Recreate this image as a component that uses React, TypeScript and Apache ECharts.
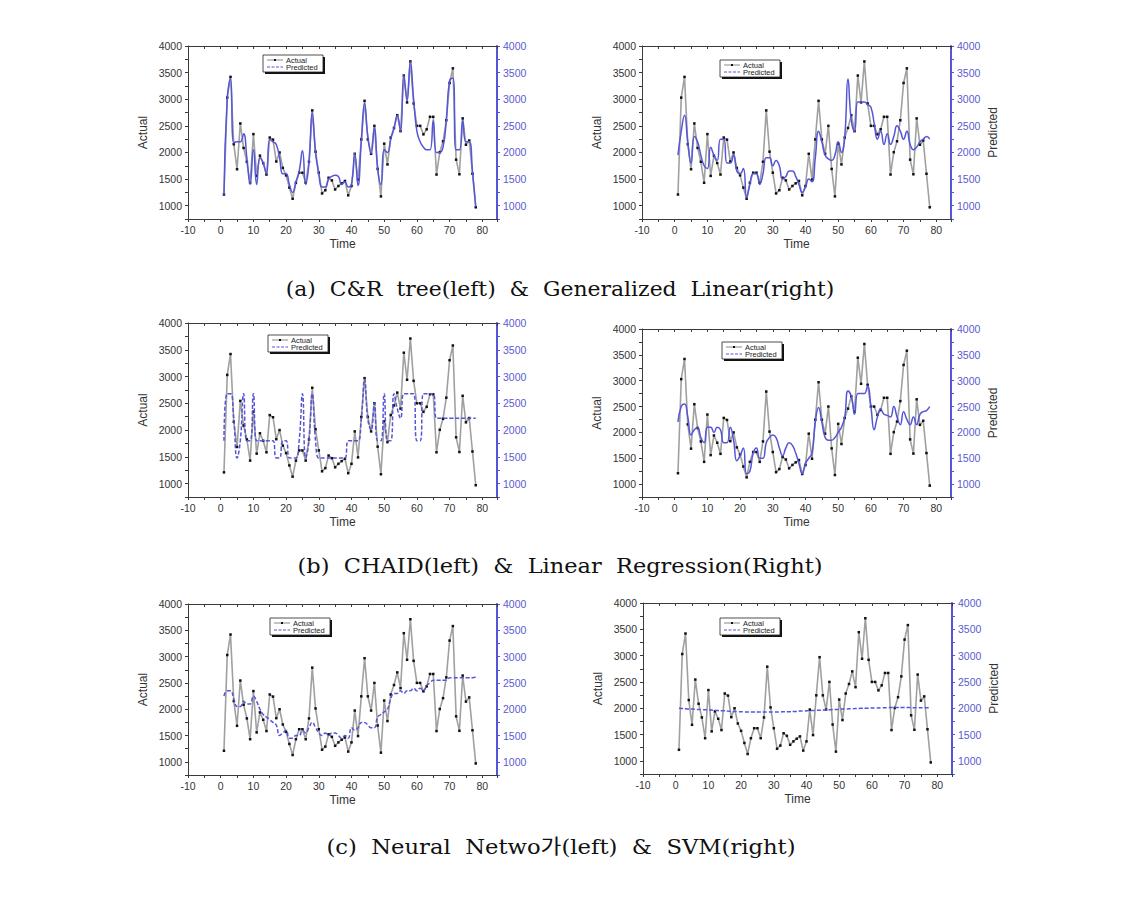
import React, { useEffect, useRef } from "react";
import * as echarts from "echarts";

// ---- data ----
const timeSteps: number[] = Array.from({ length: 78 }, (_, i) => i + 1);

const actual: number[] = [
  1210, 3030, 3420, 2155, 1685, 2545, 2085, 1825, 1430, 2345,
  1560, 1940, 1800, 1585, 2280, 2240, 1830, 2000, 1710, 1570,
  1340, 1130, 1430, 1620, 1620, 1430, 1825, 2790, 2015, 1620,
  1230, 1290, 1525, 1475, 1305, 1370, 1420, 1465, 1195, 1370,
  1975, 1490, 2245, 2970, 2245, 1975, 2500, 1690, 1175, 2165,
  1775, 2280, 2460, 2700, 2400, 3445, 2940, 3710, 2920, 2500,
  2500, 2340, 2435, 2670, 2670, 1585, 2005, 2210, 2605, 3305,
  3580, 1865, 1590, 2640, 2145, 2225, 1600, 970,
];

const predCRTree: number[] = [
  1206, 3013, 3388, 2180, 2200, 2200, 2350, 1900, 1400, 2050,
  1400, 1900, 1800, 1600, 2250, 2200, 2150, 1900, 1600, 1600,
  1400, 1250, 1450, 1650, 2030, 1400, 1800, 2750, 2000, 1600,
  1350, 1350, 1500, 1550, 1570, 1550, 1400, 1450, 1350, 1400,
  1980, 1380, 2200, 2920, 2300, 1980, 2480, 1700, 1400, 2050,
  2000, 2250, 2450, 2700, 2400, 3450, 2980, 3700, 3000, 2400,
  2200, 2100, 2050, 2050, 2600, 2000, 2000, 2100, 2600, 3350,
  3400, 2050, 2050, 2600, 2200, 2200, 1650, 980,
];

const predGLM: number[] = [
  1950, 2400, 2700, 2200, 1800, 2300, 2200, 1950, 1750, 1700,
  2100, 1950, 1850, 2250, 2250, 1800, 1800, 1950, 1650, 1600,
  1700, 1150, 1400, 1600, 1600, 1400, 1600, 1900, 1900, 1750,
  1850, 1750, 1500, 1550, 1650, 1650, 1550, 1400, 1250, 1350,
  1500, 1450, 1900, 2400, 2200, 1950, 1880, 1850, 1950, 2200,
  2000, 2300, 3380, 2600, 2400, 2950, 2950, 2950, 2900, 2850,
  2550, 2250, 2400, 2150, 2350, 2150, 2300, 2500, 2400, 2250,
  2400, 2150, 2050, 2100, 2200, 2250, 2300, 2250,
];

const predCHAID: number[] = [
  1800, 2680, 2680, 2200, 1480, 1800, 2680, 1800, 1800, 2680,
  1800, 1800, 1800, 1800, 1800, 1800, 1480, 1480, 1800, 1800,
  1480, 1480, 1480, 1800, 2680, 1480, 1800, 2680, 1800, 1480,
  1480, 1480, 1480, 1480, 1480, 1480, 1480, 1480, 1800, 1800,
  1800, 1800, 2200, 2950, 2200, 2000, 2500, 1800, 1800, 2680,
  1800, 1800, 2680, 2400, 2220, 2680, 2680, 2680, 2680, 1800,
  1800, 2680, 2680, 2680, 2680, 2220, 2220, 2220, 2220, 2220,
  2220, 2220, 2220, 2220, 2220, 2220, 2220, 2220,
];

const predLinReg: number[] = [
  2200, 2500, 2550, 2300, 1950, 2050, 2100, 1900, 1800, 2100,
  2100, 2000, 2100, 2050, 1800, 1800, 2100, 1850, 1450, 1550,
  1700, 1200, 1250, 1600, 1700, 1500, 1500, 1800, 1900, 1950,
  1900, 1700, 1550, 1700, 1800, 1750, 1600, 1400, 1200, 1400,
  1500, 1600, 2200, 2480, 2200, 1900, 1850, 1850, 1900, 2000,
  2100, 2300, 2800, 2700, 2350, 2750, 2750, 2750, 2900, 2500,
  2050, 2300, 2450, 2350, 2330, 2300, 2500, 2300, 2150, 2400,
  2250, 2150, 2300, 2150, 2350, 2400, 2420, 2500,
];

const predNeural: number[] = [
  2250, 2350, 2350, 2200, 2050, 2050, 2150, 2100, 2100, 2250,
  2150, 2000, 1900, 1850, 1800, 1750, 1700, 1500, 1550, 1600,
  1450, 1450, 1500, 1500, 1600, 1550, 1650, 1750, 1650, 1550,
  1500, 1550, 1500, 1550, 1550, 1500, 1450, 1500, 1450, 1650,
  1600, 1650, 1750, 1750, 1700, 1650, 1650, 1850, 1900, 1950,
  2000, 2200, 2300, 2300, 2350, 2300, 2350, 2350, 2400, 2350,
  2400, 2350, 2450, 2500, 2550, 2550, 2550, 2550, 2550, 2600,
  2600, 2600, 2600, 2600, 2600, 2600, 2600, 2610,
];

const predSVM: number[] = [
  2000, 1995, 1990, 1985, 1985, 1980, 1975, 1975, 1970, 1970,
  1965, 1960, 1955, 1950, 1950, 1945, 1940, 1940, 1935, 1935,
  1930, 1930, 1930, 1930, 1930, 1930, 1930, 1930, 1930, 1930,
  1930, 1930, 1935, 1935, 1935, 1940, 1940, 1945, 1945, 1950,
  1955, 1955, 1960, 1960, 1965, 1965, 1970, 1975, 1975, 1980,
  1985, 1985, 1990, 1990, 1995, 1995, 2000, 2000, 2000, 2005,
  2005, 2005, 2010, 2010, 2010, 2015, 2015, 2015, 2015, 2015,
  2015, 2010, 2010, 2010, 2010, 2010, 2010, 2010,
];

const captions: string[] = [
  "(a)  C&R  tree(left)  &  Generalized  Linear(right)",
  "(b)  CHAID(left)  &  Linear  Regression(Right)",
  "(c)  Neural  Netwo가(left)  &  SVM(right)",
];

const yTickLabels: number[] = [1000, 1500, 2000, 2500, 3000, 3500, 4000];
const xTickLabels: number[] = [-10, 0, 10, 20, 30, 40, 50, 60, 70, 80];

// ---- layout ----
const panels = [
  { pred: predCRTree, left: 188, top: 46, h: 173, lx: 263, ly: 55, rightTitle: false, dashed: false },
  { pred: predGLM, left: 642, top: 46, h: 173, lx: 720, ly: 60, rightTitle: true, dashed: false },
  { pred: predCHAID, left: 188, top: 323, h: 174, lx: 268, ly: 335, rightTitle: false, dashed: true },
  { pred: predLinReg, left: 642, top: 329, h: 168, lx: 722, ly: 342, rightTitle: true, dashed: false },
  { pred: predNeural, left: 188, top: 604, h: 171, lx: 270, ly: 618, rightTitle: false, dashed: true },
  { pred: predSVM, left: 643, top: 603, h: 171, lx: 720, ly: 618, rightTitle: true, dashed: true },
];
const captionLayout = [
  { x: 560, y: 289, sx: 1.096 },
  { x: 560, y: 566, sx: 1.125 },
  { x: 561, y: 847, sx: 1.135 },
];

const BLUE = "#5555d8";
const AXIS = "#3a3a3a";
const SANS = "'Liberation Sans', Arial, sans-serif";

function legendGroup(x: number, y: number) {
  const w = 60;
  const h = 17;
  return {
    type: "group",
    x,
    y,
    z: 100,
    children: [
      { type: "rect", shape: { x: 2, y: 2, width: w, height: h }, style: { fill: "#111" } },
      { type: "rect", shape: { x: 0, y: 0, width: w, height: h }, style: { fill: "#fff", stroke: "#222", lineWidth: 0.8 } },
      { type: "line", shape: { x1: 4, y1: 5, x2: 20, y2: 5 }, style: { stroke: "#888", lineWidth: 1 } },
      { type: "rect", shape: { x: 11, y: 4, width: 2, height: 2 }, style: { fill: "#111" } },
      { type: "text", x: 23, y: 5, style: { text: "Actual", fontSize: 7.5, fontFamily: SANS, fill: "#222", textVerticalAlign: "middle" } },
      { type: "line", shape: { x1: 4, y1: 12, x2: 20, y2: 12 }, style: { stroke: BLUE, lineWidth: 1.2, lineDash: [3, 1.5] } },
      { type: "text", x: 23, y: 12, style: { text: "Predicted", fontSize: 7.5, fontFamily: SANS, fill: "#222", textVerticalAlign: "middle" } },
    ],
  };
}

function buildOption() {
  const grid: any[] = [];
  const xAxis: any[] = [];
  const yAxis: any[] = [];
  const series: any[] = [];
  const graphic: any[] = [];

  panels.forEach((p, i) => {
    grid.push({ left: p.left, top: p.top, width: 309, height: p.h, containLabel: false });
    const xCommon = {
      type: "value",
      gridIndex: i,
      min: -10,
      max: 84.5,
      interval: 5,
      splitLine: { show: false },
    };
    xAxis.push({
      ...xCommon,
      position: "bottom",
      axisLine: { onZero: false, lineStyle: { color: AXIS, width: 1 } },
      axisTick: { inside: false, length: 3, lineStyle: { color: AXIS } },
      axisLabel: {
        fontSize: 10.5,
        fontFamily: SANS,
        color: "#333",
        margin: 5,
        formatter: (v: number) => (xTickLabels.indexOf(v) >= 0 ? String(v) : ""),
      },
      name: "Time",
      nameLocation: "middle",
      nameGap: 19,
      nameTextStyle: { fontSize: 12, fontFamily: SANS, color: "#333" },
    });
    xAxis.push({
      ...xCommon,
      position: "top",
      axisLine: { onZero: false, lineStyle: { color: AXIS, width: 1 } },
      axisTick: { inside: true, length: 3, lineStyle: { color: AXIS } },
      axisLabel: { show: false },
    });
    const yCommon = {
      type: "value",
      gridIndex: i,
      min: 750,
      max: 4000,
      interval: 250,
      splitLine: { show: false },
    };
    yAxis.push({
      ...yCommon,
      position: "left",
      axisLine: { show: true, onZero: false, lineStyle: { color: AXIS, width: 1 } },
      axisTick: { show: true, length: 3, lineStyle: { color: AXIS } },
      axisLabel: {
        fontSize: 10.5,
        fontFamily: SANS,
        color: "#333",
        margin: 6,
        formatter: (v: number) => (yTickLabels.indexOf(v) >= 0 ? String(v) : ""),
      },
      name: "Actual",
      nameLocation: "middle",
      nameGap: 39,
      nameTextStyle: { fontSize: 12, fontFamily: SANS, color: "#333" },
    });
    yAxis.push({
      ...yCommon,
      position: "right",
      axisLine: { show: true, onZero: false, lineStyle: { color: BLUE, width: 2 } },
      axisTick: { show: true, length: 3, lineStyle: { color: BLUE } },
      axisLabel: {
        fontSize: 10.5,
        fontFamily: SANS,
        color: "#5a5ad0",
        margin: 6,
        formatter: (v: number) => (yTickLabels.indexOf(v) >= 0 ? String(v) : ""),
      },
      name: p.rightTitle ? "Predicted" : "",
      nameLocation: "middle",
      nameGap: 36,
      nameRotate: 90,
      nameTextStyle: { fontSize: 12, fontFamily: SANS, color: "#333" },
    });

    series.push({
      type: "line",
      name: "Actual",
      xAxisIndex: 2 * i,
      yAxisIndex: 2 * i,
      data: timeSteps.map((t, k) => [t, actual[k]]),
      symbol: "rect",
      symbolSize: 2.5,
      showSymbol: true,
      itemStyle: { color: "#111" },
      lineStyle: { color: "#a0a0a0", width: 1.6 },
      z: 2,
    });
    series.push({
      type: "line",
      name: "Predicted",
      xAxisIndex: 2 * i,
      yAxisIndex: 2 * i + 1,
      data: timeSteps.map((t, k) => [t, p.pred[k]]),
      smooth: 0.5,
      showSymbol: false,
      lineStyle: { color: BLUE, width: 1.5, type: p.dashed ? [4, 2] : "solid" },
      z: 3,
    });

    graphic.push(legendGroup(p.lx, p.ly));
  });

  captions.forEach((c, i) => {
    const L = captionLayout[i];
    graphic.push({
      type: "text",
      x: L.x,
      y: L.y,
      scaleX: L.sx,
      style: {
        text: c,
        fontSize: 20,
        fontFamily: "'DejaVu Serif', 'Noto Sans CJK KR', serif",
        fill: "#111",
        textAlign: "center",
        textVerticalAlign: "middle",
      },
    });
  });

  return {
    animation: false,
    backgroundColor: "#ffffff",
    grid,
    xAxis,
    yAxis,
    series,
    graphic,
  };
}

export default function App() {
  const ref = useRef<HTMLDivElement>(null);
  useEffect(() => {
    if (!ref.current) return;
    const chart = echarts.init(ref.current, null, { renderer: "svg" });
    chart.setOption(buildOption() as any);
    return () => chart.dispose();
  }, []);
  return (
    <div
      ref={ref}
      style={{ position: "absolute", left: 0, top: 0, width: 1132, height: 898, background: "#fff" }}
    />
  );
}
